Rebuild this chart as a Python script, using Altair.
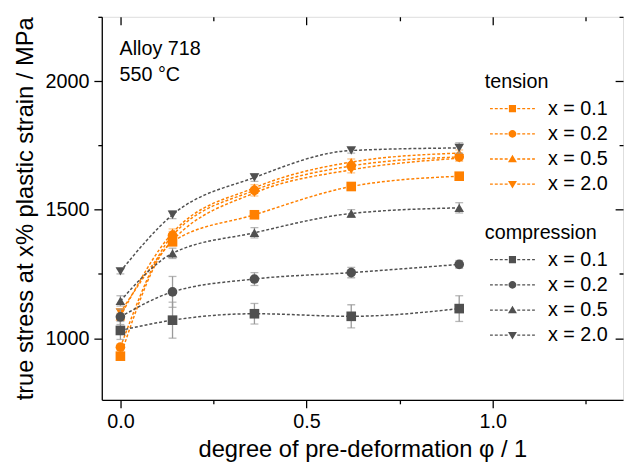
import altair as alt
import pandas as pd

# ---------------- data ----------------
phi = [0.0, 0.14, 0.36, 0.62, 0.91]
levels = ["x = 0.1", "x = 0.2", "x = 0.5", "x = 2.0"]

tension_01 = [930, 1375, 1480, 1590, 1630]
tension_02 = [965, 1400, 1575, 1670, 1705]
tension_05 = [1085, 1410, 1585, 1685, 1720]
tension_20 = [1100, 1380, 1565, 1655, 1700]
tension_err = [12, 15, 12, 12, 12]

compression_01 = [1030, 1070, 1095, 1085, 1115]
compression_02 = [1083, 1180, 1230, 1255, 1287]
compression_05 = [1145, 1330, 1410, 1485, 1507]
compression_20 = [1260, 1480, 1625, 1730, 1740]
compression_err_01 = [35, 70, 40, 45, 50]
compression_err_02 = [30, 60, 25, 20, 15]
compression_err_05 = [20, 20, 20, 15, 20]
compression_err_20 = [10, 15, 15, 10, 20]

annotation = ["Alloy 718", "550 °C"]
x_title = "degree of pre-deformation φ / 1"
y_title = "true stress at x% plastic strain / MPa"
x_ticks = [0.0, 0.25, 0.5, 0.75, 1.0, 1.25]
y_ticks = [1000, 1250, 1500, 1750, 2000, 2250]

# ---------------- table ----------------
rows = []
groups = [
    ("tension", [tension_01, tension_02, tension_05, tension_20],
     [tension_err] * 4),
    ("compression", [compression_01, compression_02, compression_05, compression_20],
     [compression_err_01, compression_err_02, compression_err_05, compression_err_20]),
]
for mode, series, errs in groups:
    for lev, vals, err in zip(levels, series, errs):
        for p, v, e in zip(phi, vals, err):
            rows.append({"mode": mode, "level": lev, "phi": p, "stress": v,
                         "lo": v - e, "hi": v + e})
df = pd.DataFrame(rows)

# ---------------- style ----------------
FONT = "Liberation Sans"
ORANGE = "#FF8000"
ORANGE_ERR = "#FFB060"
GREY = "#505050"
GREY_ERR = "#9A9A9A"

xs = alt.Scale(domain=[-0.05, 1.35], nice=False, zero=False)
ys = alt.Scale(domain=[760, 2250], nice=False, zero=False)

major_x = "abs(datum.value*2 - round(datum.value*2)) < 0.001"
major_y = "datum.value % 500 == 0"

common_axis = dict(grid=False, domainColor="black", tickColor="black",
                   domainWidth=1.3, tickWidth=1.3, labelColor="black",
                   titleColor="black", labelFont=FONT, titleFont=FONT,
                   labelFontSize=20, titleFontSize=24, titleFontWeight="normal",
                   labelOverlap=False, labelFlush=False)

ax_bottom = alt.Axis(title=x_title, values=x_ticks,
                     labelExpr=f"({major_x}) ? format(datum.value, '.1f') : ''",
                     tickSize={"condition": {"test": major_x, "value": 8}, "value": 4},
                     labelPadding=4, titlePadding=6, **common_axis)
ax_left = alt.Axis(title=y_title, values=y_ticks,
                   labelExpr=f"({major_y}) ? format(datum.value, 'd') : ''",
                   tickSize={"condition": {"test": major_y, "value": 8}, "value": 4},
                   labelPadding=5, titlePadding=8, **common_axis)
ax_top = alt.Axis(orient="top", values=x_ticks, labels=False, title=None,
                  domain=False, offset=-8, tickSize=8, grid=False,
                  tickColor="black", tickWidth=1.3,
                  tickDash={"condition": {"test": major_x, "value": [10, 0]},
                            "value": [0, 4, 4]})
ax_right = alt.Axis(orient="right", values=y_ticks, labels=False, title=None,
                    domain=False, offset=-8, tickSize=8, grid=False,
                    tickColor="black", tickWidth=1.3,
                    tickDash={"condition": {"test": major_y, "value": [10, 0]},
                              "value": [0, 4, 4]})

X0 = alt.X("phi:Q", scale=xs, axis=None)
Y0 = alt.Y("stress:Q", scale=ys, axis=None)

marker_shapes = ["square", "circle", "triangle-up", "triangle-down"]


def legend_path(marker):
    unit = 3.6
    dash, gap, th = 3.0 / unit, 2.0 / unit, 0.65 / unit
    parts = [marker]
    for sign in (-1, 1):
        start = 1.35
        while start < 6.3:
            end = min(start + dash, 6.3)
            a, b = sign * start, sign * end
            parts.append(f"M{a:.3f},{-th:.3f}L{b:.3f},{-th:.3f}L{b:.3f},{th:.3f}L{a:.3f},{th:.3f}Z")
            start = end + gap
    return "".join(parts)


legend_markers = [
    "M-1,-1L1,-1L1,1L-1,1Z",
    "M1.1,0A1.1,1.1,0,1,1,-1.1,0A1.1,1.1,0,1,1,1.1,0Z",
    "M0,-1.2L1.25,0.9L-1.25,0.9Z",
    "M0,1.2L1.25,-0.9L-1.25,-0.9Z",
]
legend_paths = [legend_path(m) for m in legend_markers]


def series_layers(mode, color, err_color):
    base = alt.Chart(df).transform_filter(alt.datum.mode == mode)
    rule = base.mark_rule(color=err_color, strokeWidth=1.3).encode(
        x=X0, y=alt.Y("lo:Q", scale=ys, axis=None), y2="hi:Q")
    caps = base.transform_fold(["lo", "hi"], as_=["end", "val"]).mark_tick(
        color=err_color, orient="horizontal", size=8, thickness=1.3).encode(
        x=X0, y=alt.Y("val:Q", scale=ys, axis=None))
    line = base.mark_line(color=color, strokeDash=[3, 2], strokeWidth=1.5,
                          interpolate="monotone").encode(
        x=X0, y=Y0, detail="level:N")
    pts = base.mark_point(filled=True, color=color, opacity=1, size=95).encode(
        x=X0, y=Y0,
        shape=alt.Shape("level:N", scale=alt.Scale(domain=levels, range=marker_shapes),
                        legend=None))
    return [rule, caps, line, pts]


def legend_layer(mode, color, ly):
    return alt.Chart(df).transform_filter("false").mark_point(
        filled=True, color=color, opacity=1).encode(
        x=X0, y=Y0,
        shape=alt.Shape("level:N", scale=alt.Scale(domain=levels, range=legend_paths),
                        legend=alt.Legend(
                            title=mode, orient="none", legendX=388, legendY=ly,
                            symbolSize=52, symbolFillColor=color,
                            symbolStrokeColor=color, symbolStrokeWidth=0,
                            symbolOpacity=1, symbolOffset=18, labelOffset=26,
                            rowPadding=5.5, titlePadding=7, padding=0,
                            labelFontSize=20, titleFontSize=20,
                            labelFont=FONT, titleFont=FONT,
                            titleFontWeight="normal", labelColor="black",
                            titleColor="black", labelLimit=200)))


frame_bl = alt.Chart(df).mark_point(opacity=0).encode(
    x=alt.X("phi:Q", scale=xs, axis=ax_bottom),
    y=alt.Y("stress:Q", scale=ys, axis=ax_left))
frame_tr = alt.Chart(df).mark_point(opacity=0).encode(
    x=alt.X("phi:Q", scale=xs, axis=ax_top),
    y=alt.Y("stress:Q", scale=ys, axis=ax_right))

note = alt.Chart(pd.DataFrame({"k": [0]})).mark_text(
    text=annotation, align="left", baseline="middle", font=FONT, fontSize=20,
    lineHeight=26, color="black").encode(x=alt.value(18), y=alt.value(33))

layers = ([frame_bl, frame_tr]
          + series_layers("tension", ORANGE, ORANGE_ERR)
          + series_layers("compression", GREY, GREY_ERR)
          + [legend_layer("tension", ORANGE, 56),
             legend_layer("compression", GREY, 209),
             note])

chart = alt.layer(*layers).resolve_scale(
    shape="independent").resolve_axis(
    x="independent", y="independent").properties(
    width=528, height=388,
    autosize=alt.AutoSizeParams(type="none"),
    padding={"left": 95, "top": 6, "right": 2, "bottom": 60},
).configure_view(stroke="black", strokeWidth=1.3).configure(font=FONT)

chart.save("out.html", embed_options={"renderer": "svg", "actions": False})
